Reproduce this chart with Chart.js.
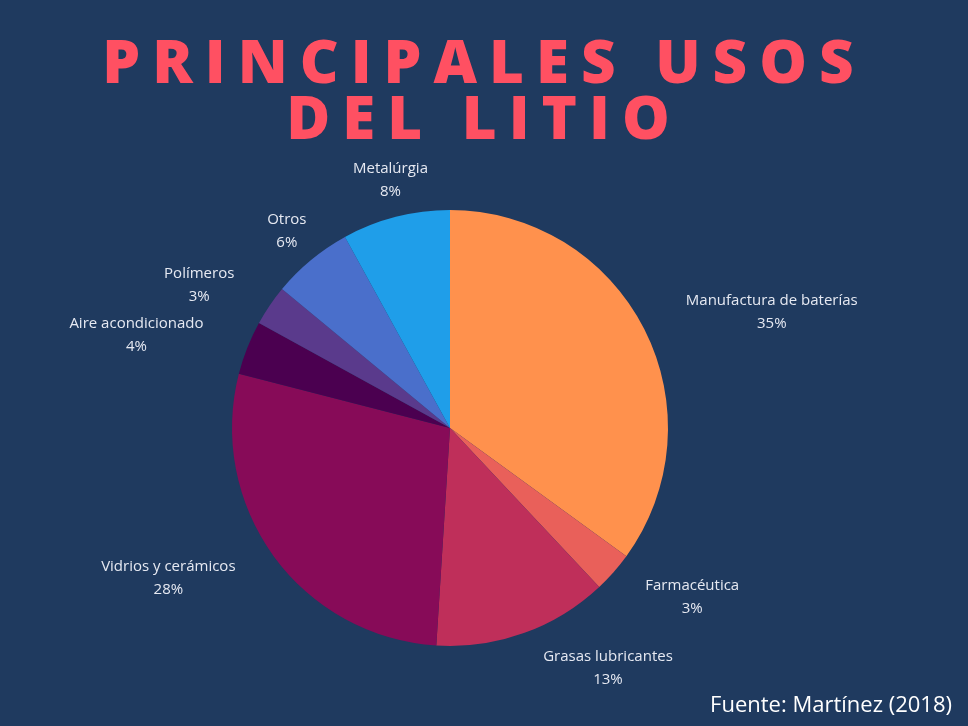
<!DOCTYPE html>
<html><head><meta charset="utf-8">
<script src="https://cdn.jsdelivr.net/npm/chart.js@4"></script>
<style>
html,body{margin:0;padding:0;background:#1f3a5f;width:968px;height:726px;overflow:hidden;font-family:"Open Sans",sans-serif}
#wrap{position:relative;width:968px;height:726px}
#title{position:absolute;top:32px;left:0;width:968px;text-align:center;color:#ff5062;font:800 60px/56px "Open Sans",sans-serif;letter-spacing:12px;margin:0}
#src{position:absolute;right:16px;bottom:8px;color:#fff;font:22px "Open Sans",sans-serif}
canvas{position:absolute;left:0;top:0}
</style></head><body>
<div id="wrap">
<canvas id="pie" width="968" height="726"></canvas>
<h1 id="title">PRINCIPALES USOS<br>DEL LITIO</h1>
<div id="src">Fuente: Martínez (2018)</div>
</div>
<script>
'use strict';
const labels = ['Manufactura de baterías','Farmacéutica','Grasas lubricantes','Vidrios y cerámicos','Aire acondicionado','Polímeros','Otros','Metalúrgia'];
const values = [35, 3, 13, 28, 4, 3, 6, 8];
const colors = ['#ff914d','#e9605a','#bf2f5a','#870b58','#4b0050','#5a3a8c','#4a6fcb','#1f9ee9'];
// label placement: distance from centre and angle shift (degrees) from slice middle
const labelDist = [342, 295, 287, 319, 327, 289, 256, 255];
const labelShift = [7.2, -6.6, -13.6, 8, -5.1, -4.4, 0, 0.9];

const outsideLabels = {
    id: 'outsideLabels',
    afterDraw(chart) {
        const ctx = chart.ctx;
        const arcs = chart.getDatasetMeta(0).data;
        ctx.save();
        ctx.fillStyle = '#e6e9f2';
        ctx.font = '15px "Open Sans", sans-serif';
        ctx.textAlign = 'center';
        ctx.textBaseline = 'middle';
        arcs.forEach(function (arc, i) {
            const a = (arc.startAngle + arc.endAngle) / 2 + labelShift[i] * Math.PI / 180;
            const x = arc.x + Math.cos(a) * labelDist[i];
            const y = arc.y + Math.sin(a) * labelDist[i];
            ctx.fillText(labels[i], x, y - 11);
            ctx.fillText(values[i] + '%', x, y + 12);
        });
        ctx.restore();
    }
};

new Chart(document.getElementById('pie'), {
    type: 'pie',
    data: {
        labels: labels,
        datasets: [{
            data: values,
            backgroundColor: colors,
            borderWidth: 0
        }]
    },
    options: {
        responsive: false,
        animation: false,
        layout: { padding: { left: 232, right: 300, top: 210, bottom: 80 } },
        plugins: {
            legend: { display: false },
            tooltip: { enabled: false }
        }
    },
    plugins: [outsideLabels]
});
</script>
</body></html>
